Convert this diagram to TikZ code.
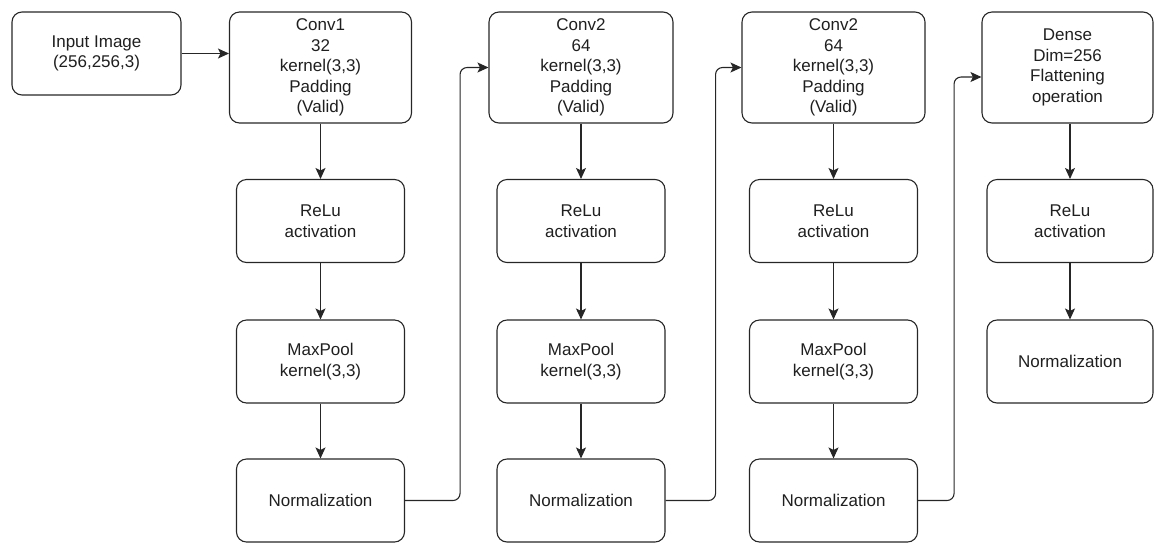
\documentclass[tikz,border=0pt]{standalone}
\usepackage{fontspec}
\setmainfont{Liberation Sans}
\usetikzlibrary{arrows.meta}
\begin{document}
\begin{tikzpicture}[x=1pt,y=-1pt,
  every node/.style={font=\fontsize{17}{20.5}\selectfont, text=black!88},
  box/.style={draw=black!85, line width=1.1pt, rounded corners=10pt,
    align=center, inner sep=0pt},
  convbox/.style={box, minimum width=182pt, minimum height=111pt},
  layerbox/.style={box, minimum width=168pt, minimum height=83pt},
  conn/.style={draw=black!85, line width=1.1pt,
    -{Stealth[length=11pt,width=10pt,inset=2.5pt]}},
  hop/.style={conn, rounded corners=7pt}]
\useasboundingbox (0,0) rectangle (1155,542);

% input
\node[box, minimum width=169pt, minimum height=83pt] (in) at (96.5,53.5)
  {Input Image\\(256,256,3)};

% first convolution block
\node[convbox] (c1) at (320.5,67.5) {Conv1\\32\\kernel(3,3)\\Padding\\(Valid)};
\node[layerbox] (r1) at (320.5,221) {ReLu\\activation};
\node[layerbox] (m1) at (320.5,361.5) {MaxPool\\kernel(3,3)};
\node[layerbox] (n1) at (320.5,500.5) {Normalization};

% second convolution block
\node[convbox, minimum width=184pt] (c2) at (581,67.5) {Conv2\\64\\kernel(3,3)\\Padding\\(Valid)};
\node[layerbox] (r2) at (581,221) {ReLu\\activation};
\node[layerbox] (m2) at (581,361.5) {MaxPool\\kernel(3,3)};
\node[layerbox] (n2) at (581,500.5) {Normalization};

% third convolution block
\node[convbox, minimum width=183pt] (c3) at (833.5,67.5) {Conv2\\64\\kernel(3,3)\\Padding\\(Valid)};
\node[layerbox] (r3) at (833.5,221) {ReLu\\activation};
\node[layerbox] (m3) at (833.5,361.5) {MaxPool\\kernel(3,3)};
\node[layerbox] (n3) at (833.5,500.5) {Normalization};

% dense block
\node[convbox, minimum width=171pt] (d4) at (1067.5,67.5) {Dense\\Dim=256\\Flattening\\operation};
\node[layerbox, minimum width=166pt] (r4) at (1070,221) {ReLu\\activation};
\node[layerbox, minimum width=166pt] (n4) at (1070,361.5) {Normalization};

% connectors
\draw[conn] (in.east) -- (in.east -| c1.west);
\foreach \a/\b in {c1/r1, r1/m1, m1/n1, c2/r2, r2/m2, m2/n2, c3/r3, r3/m3, m3/n3}
  \draw[conn] (\a.south) -- (\b.north);
\draw[conn] (d4.south -| r4.north) -- (r4.north);
\draw[conn] (r4.south) -- (n4.north);

\draw[hop] (n1.east) -- ++(55,0) |- (c2.west);
\draw[hop] (n2.east) -- ++(50,0) |- (c3.west);
\draw[hop] (n3.east) -- ++(36,0) |- ([yshift=-9.5pt]d4.west);
\end{tikzpicture}
\end{document}
